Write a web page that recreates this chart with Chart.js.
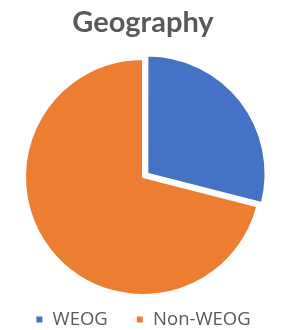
<!DOCTYPE html>
<html>
<head>
<meta charset="utf-8">
<script src="https://cdn.jsdelivr.net/npm/chart.js@4"></script>
<style>
  html, body { margin: 0; padding: 0; background: #fff; }
  #wrap { width: 282px; height: 330px; }
</style>
</head>
<body>
<div id="wrap"><canvas id="chart-geo"></canvas></div>
<script>
const categories = ["WEOG", "Non-WEOG"];
const shares = [29, 71];
const sliceColors = ["#4472C4", "#ED7D31"];
// WEOG slice is pulled out a little
const sliceOffsets = [22, 0];

document.addEventListener("DOMContentLoaded", () => {
  const ctx = document.getElementById("chart-geo").getContext("2d");
  new Chart(ctx, {
    type: "pie",
    data: {
      labels: categories,
      datasets: [
        {
          data: shares,
          backgroundColor: sliceColors,
          borderColor: "#fff",
          borderWidth: 2,
          offset: sliceOffsets,
          clip: false,
        },
      ],
    },
    options: {
      responsive: true,
      maintainAspectRatio: false,
      animation: false,
      radius: 118,
      layout: { padding: { top: 0, bottom: -8.75, left: 4, right: 0 } },
      plugins: {
        title: {
          display: true,
          text: "Geography",
          color: "#595959",
          font: { family: "Lato", size: 29, weight: "bold" },
          padding: { top: 5, bottom: 32 },
        },
        legend: {
          position: "bottom",
          labels: {
            color: "#595959",
            font: { family: "Open Sans", size: 18.5 },
            boxWidth: 8,
            boxHeight: 8,
            padding: 28,
          },
        },
        tooltip: { enabled: false },
      },
    },
  });
});
</script>
</body>
</html>
